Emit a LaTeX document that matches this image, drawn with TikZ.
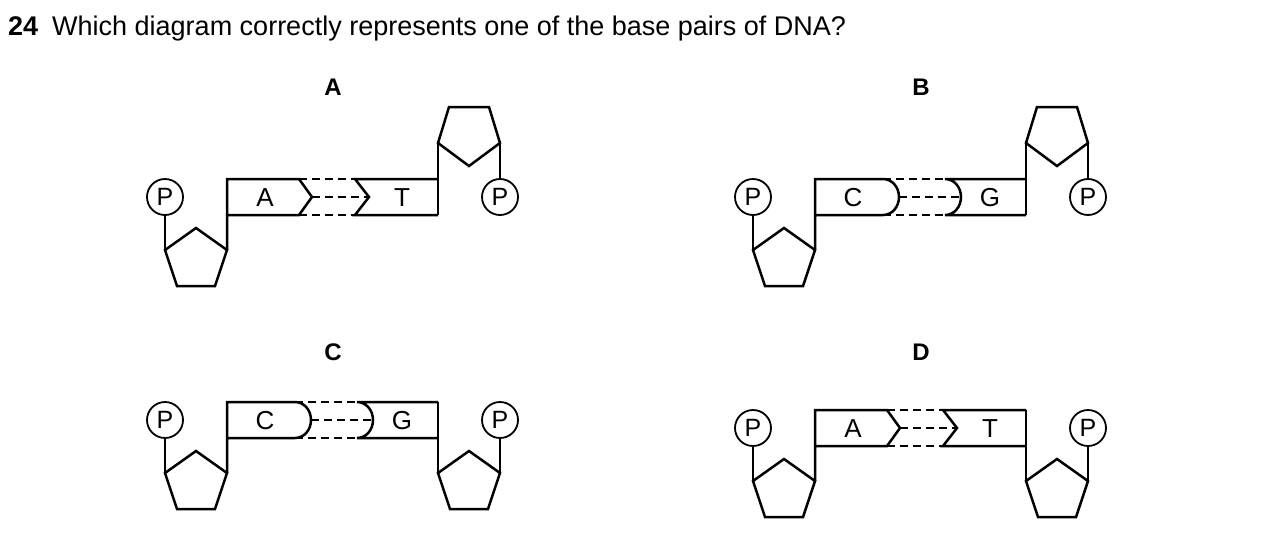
\documentclass[tikz,border=0pt]{standalone}
\usepackage{fontspec}
\setmainfont{Liberation Sans}
\begin{document}
\begin{tikzpicture}[x=1pt,y=-1pt,
  ln/.style={line width=2.5pt,line join=miter},
  hb/.style={line width=1.5pt,dash pattern=on 8pt off 5pt},
  pc/.style={circle,draw,line width=1.8pt,minimum size=36pt,inner sep=0pt,font=\fontsize{25}{25}\selectfont},
  base/.style={font=\fontsize{26}{26}\selectfont,inner sep=0pt},
  lab/.style={font=\bfseries\fontsize{24}{24}\selectfont,inner sep=0pt}]
\useasboundingbox (0,0) rectangle (1265,542);
\node[anchor=base west,inner sep=0pt,font=\fontsize{27}{27}\selectfont] (q) at (8,35) {\textbf{24}\hspace{14pt}Which diagram correctly represents one of the base pairs of DNA?};
\newcommand\dnapair[6]{%
\begin{scope}[shift={#2}]
 \node[pc] (#1pl) at (0,0) {P};
 \node[pc] (#1pr) at (335,0) {P};
 \draw[ln] (#1pl) -- (0,53);
 \draw[ln] (0,53) -- (31,31) -- (62,53) -- (50,89) -- (12,89) -- cycle;
 \ifnum#3=0
   \draw[ln] (62,53) -- (62,-18) -- (134,-18) -- (147,0) -- (134,18) -- (62,18);
   \draw[hb] (134,-18) -- (190,-18);
   \draw[hb] (134,18) -- (190,18);
   \draw[hb] (147,0) -- (204,0);
   \draw[ln] (273,-18) -- (190,-18) -- (204,0) -- (190,18) -- (273,18);
 \else
   \draw[ln] (62,53) -- (62,-18) -- (130,-18) .. controls (139,-18) and (146,-10) .. (146,0) .. controls (146,10) and (139,18) .. (130,18) -- (62,18);
   \draw[hb] (130,-18) -- (192,-18);
   \draw[hb] (130,18) -- (192,18);
   \draw[hb] (146,0) -- (207,0);
   \draw[ln] (273,-18) -- (192,-18) .. controls (201,-18) and (208,-10) .. (208,0) .. controls (208,10) and (201,18) .. (192,18) -- (273,18);
 \fi
 \ifnum#4=1
   \draw[ln] (273,18) -- (273,-54);
   \draw[ln] (273,-54) -- (304,-31) -- (335,-54) -- (324,-90) -- (284,-90) -- cycle;
   \draw[ln] (#1pr) -- (335,-54);
 \else
   \draw[ln] (273,-18) -- (273,53);
   \draw[ln] (273,53) -- (304,31) -- (335,53) -- (323,89) -- (285,89) -- cycle;
   \draw[ln] (#1pr) -- (335,53);
 \fi
 \node[base] (#1b1) at (100,1) {#5};
 \node[base] (#1b2) at (237,1) {#6};
\end{scope}}
\dnapair{a}{(165,197)}{0}{1}{A}{T}
\dnapair{b}{(753,197)}{1}{1}{C}{G}
\dnapair{c}{(165,420)}{1}{0}{C}{G}
\dnapair{d}{(753,428)}{0}{0}{A}{T}
\node[lab] (la) at (333,87) {A};
\node[lab] (lb) at (921,87) {B};
\node[lab] (lc) at (333,352) {C};
\node[lab] (ld) at (921,352) {D};
\end{tikzpicture}
\end{document}
